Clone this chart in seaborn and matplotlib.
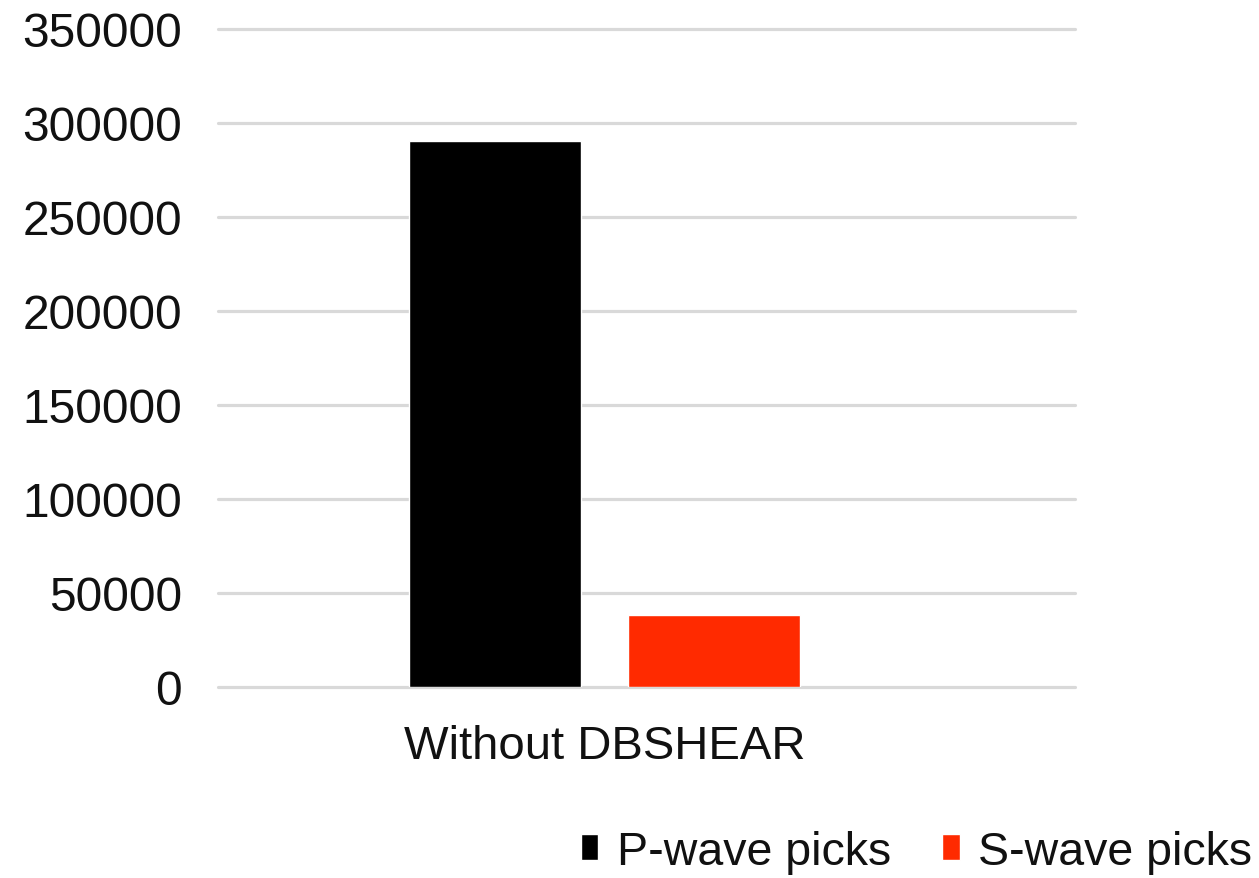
import pandas as pd
import matplotlib
matplotlib.use("Agg")
import matplotlib.pyplot as plt
import seaborn as sns

# values
categories = ["Without DBSHEAR"]
series = ["P-wave picks", "S-wave picks"]
p_picks = [290400]
s_picks = [38300]
colors = ["#000000", "#ff2a00"]
yticks = [0, 50000, 100000, 150000, 200000, 250000, 300000, 350000]

df = pd.DataFrame({
    "group": categories * 2,
    "series": [series[0]] * len(p_picks) + [series[1]] * len(s_picks),
    "picks": p_picks + s_picks,
})

sns.set_style("white")
plt.rcParams["font.family"] = ["Liberation Sans", "DejaVu Sans"]

fig = plt.figure(figsize=(12.59, 8.79), dpi=100)
ax = fig.add_axes([0.1732, 0.2173, 0.6807, 0.7486])

sns.barplot(data=df, x="group", y="picks", hue="series", palette=colors,
            width=0.8, gap=0.215, saturation=1, ax=ax, zorder=3)

ax.set_xlim(-0.706, 0.859)
ax.set_ylim(0, 350000)
ax.set_yticks(yticks)
ax.set_yticklabels([str(v) for v in yticks])
ax.yaxis.grid(True, color="#d9d9d9", linewidth=2.3, zorder=0)
for gl in ax.get_ygridlines():
    gl.set_clip_on(False)
ax.set_axisbelow(True)
for s in ax.spines.values():
    s.set_visible(False)
ax.tick_params(axis="y", length=0, pad=26, labelsize=34.5, labelcolor="#111111")
ax.tick_params(axis="x", length=0, pad=27, labelsize=34, labelcolor="#111111")
ax.set_xlabel("")
ax.set_ylabel("")

ax.legend(loc="center", bbox_to_anchor=(0.728, 0.03), bbox_transform=fig.transFigure,
          ncol=2, frameon=False, fontsize=33.5, handlelength=0.38, handleheight=0.5,
          handletextpad=0.4, columnspacing=1.1, labelcolor="#111111")

fig.savefig("out.png", dpi=100, facecolor="white")
